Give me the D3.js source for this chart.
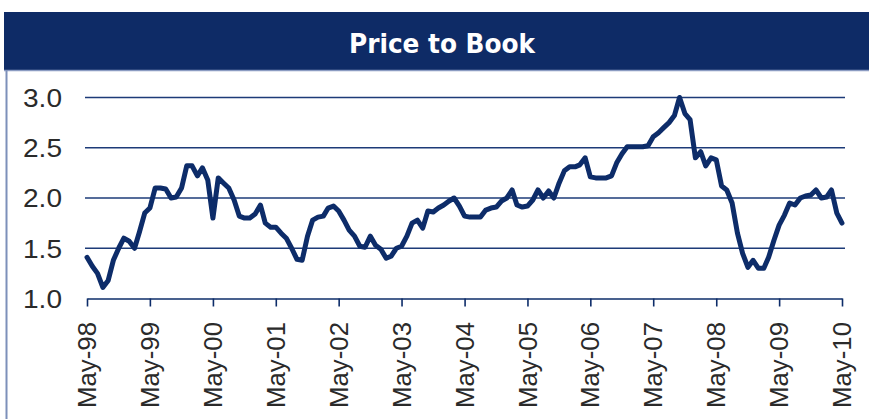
<!DOCTYPE html>
<html>
<head>
<meta charset="utf-8">
<script src="https://cdn.jsdelivr.net/npm/d3@7"></script>
<style>
  body { margin: 0; background: #fff; }
  svg { display: block; }
</style>
</head>
<body>
<div id="chart"></div>
<script>
var W = 869;
var H = 419;

// monthly price to book, May-98 .. May-10
var startMonth = new Date(1998, 4, 1);
var pbValues = [
  1.41, 1.32, 1.25, 1.11, 1.18, 1.38, 1.50, 1.60, 1.57, 1.50, 1.66, 1.85,
  1.90, 2.10, 2.10, 2.09, 2.00, 2.01, 2.10, 2.32, 2.32, 2.22, 2.30, 2.18,
  1.80, 2.20, 2.15, 2.10, 1.98, 1.82, 1.80, 1.80, 1.84, 1.93, 1.75, 1.71,
  1.71, 1.65, 1.60, 1.50, 1.39, 1.38, 1.62, 1.78, 1.81, 1.82, 1.90, 1.92,
  1.87, 1.78, 1.68, 1.62, 1.52, 1.51, 1.62, 1.53, 1.49, 1.40, 1.42, 1.50,
  1.52, 1.62, 1.75, 1.78, 1.70, 1.87, 1.86, 1.90, 1.93, 1.97, 2.00, 1.92,
  1.82, 1.81, 1.81, 1.81, 1.88, 1.90, 1.91, 1.97, 2.00, 2.08, 1.93, 1.91,
  1.92, 1.98, 2.08, 2.00, 2.07, 2.00, 2.15, 2.27, 2.31, 2.31, 2.33, 2.40,
  2.21, 2.20, 2.20, 2.20, 2.22, 2.35, 2.44, 2.51, 2.51, 2.51, 2.51, 2.52,
  2.61, 2.65, 2.70, 2.75, 2.82, 3.00, 2.84, 2.78, 2.40, 2.46, 2.32, 2.40,
  2.38, 2.12, 2.08, 1.95, 1.65, 1.45, 1.31, 1.38, 1.30, 1.30, 1.41, 1.58,
  1.73, 1.83, 1.95, 1.93, 2.00, 2.02, 2.03, 2.08, 2.00, 2.01, 2.08, 1.85,
  1.75
];
var yTicks = [1.0, 1.5, 2.0, 2.5, 3.0];
var xTickYears = [1998, 1999, 2000, 2001, 2002, 2003, 2004, 2005, 2006, 2007, 2008, 2009, 2010];

var navy = "#0d2c69";

var data = pbValues.map(function (v, i) {
    return { date: d3.timeMonth.offset(startMonth, i), value: v };
});

var svg = d3.select("#chart")
    .append("svg")
    .attr("width", W)
    .attr("height", H);

// title bar
svg.append("rect")
    .attr("x", 4).attr("y", 12)
    .attr("width", W - 4).attr("height", 58)
    .attr("fill", "#0e2b66");
svg.append("line")
    .attr("x1", 4).attr("x2", W)
    .attr("y1", 70.5).attr("y2", 70.5)
    .attr("stroke", "#8c9cc2").attr("stroke-width", 1.5);
svg.append("line")
    .attr("x1", 6.5).attr("x2", 6.5)
    .attr("y1", 70).attr("y2", H)
    .attr("stroke", "#7d90ba").attr("stroke-width", 2);
svg.append("text")
    .attr("x", 442).attr("y", 53)
    .attr("text-anchor", "middle")
    .attr("font-family", "'DejaVu Sans Condensed', 'Liberation Sans Narrow', sans-serif")
    .attr("font-stretch", "condensed")
    .attr("font-weight", "bold")
    .attr("font-size", "27px")
    .attr("fill", "#fff")
    .attr("textLength", 186)
    .attr("lengthAdjust", "spacingAndGlyphs")
    .text("Price to Book");

var x = d3.scaleTime()
    .domain([startMonth, d3.timeMonth.offset(startMonth, pbValues.length - 1)])
    .range([87, 842]);

var y = d3.scaleLinear()
    .domain([1, 3])
    .range([298.5, 97.5]);

// gridlines
svg.append("g")
    .selectAll("line")
    .data(yTicks.slice(1))
    .enter()
    .append("line")
    .attr("x1", 85).attr("x2", 845)
    .attr("y1", function (d) { return y(d); })
    .attr("y2", function (d) { return y(d); })
    .attr("stroke", "#1d3b78")
    .attr("stroke-width", 1.6);

// y labels
svg.append("g")
    .selectAll("text")
    .data(yTicks)
    .enter()
    .append("text")
    .attr("x", 62)
    .attr("y", function (d) { return y(d); })
    .attr("dy", "0.36em")
    .attr("text-anchor", "end")
    .attr("font-family", "'Liberation Sans', Arial, sans-serif")
    .attr("font-size", "26px")
    .attr("fill", "#2a2a2a")
    .attr("textLength", 39)
    .attr("lengthAdjust", "spacingAndGlyphs")
    .text(function (d) { return d.toFixed(1); });

// x axis
var xAxis = d3.axisBottom(x)
    .tickValues(xTickYears.map(function (yr) { return new Date(yr, 4, 1); }))
    .tickSize(8)
    .tickSizeOuter(0)
    .tickFormat("");

var gx = svg.append("g")
    .attr("transform", "translate(0," + y(1) + ")")
    .call(xAxis);
gx.select(".domain").attr("stroke", navy).attr("stroke-width", 1.6);
gx.selectAll(".tick line").attr("stroke", navy).attr("stroke-width", 1.6);

var fmt = d3.timeFormat("%b-%y");
svg.append("g")
    .selectAll("text")
    .data(xTickYears)
    .enter()
    .append("text")
    .attr("transform", function (d) {
        return "translate(" + x(new Date(d, 4, 1)) + ",322) rotate(-90)";
    })
    .attr("dy", "0.35em")
    .attr("text-anchor", "end")
    .attr("font-family", "'Liberation Sans', Arial, sans-serif")
    .attr("font-size", "26px")
    .attr("fill", "#2a2a2a")
    .attr("textLength", 86)
    .attr("lengthAdjust", "spacingAndGlyphs")
    .text(function (d) { return fmt(new Date(d, 4, 1)); });

// the series
var line = d3.line()
    .x(function (d) { return x(d.date); })
    .y(function (d) { return y(d.value); });

svg.append("path")
    .datum(data)
    .attr("d", line)
    .attr("fill", "none")
    .attr("stroke", navy)
    .attr("stroke-width", 5)
    .attr("stroke-linejoin", "round")
    .attr("stroke-linecap", "round");
</script>
</body>
</html>
